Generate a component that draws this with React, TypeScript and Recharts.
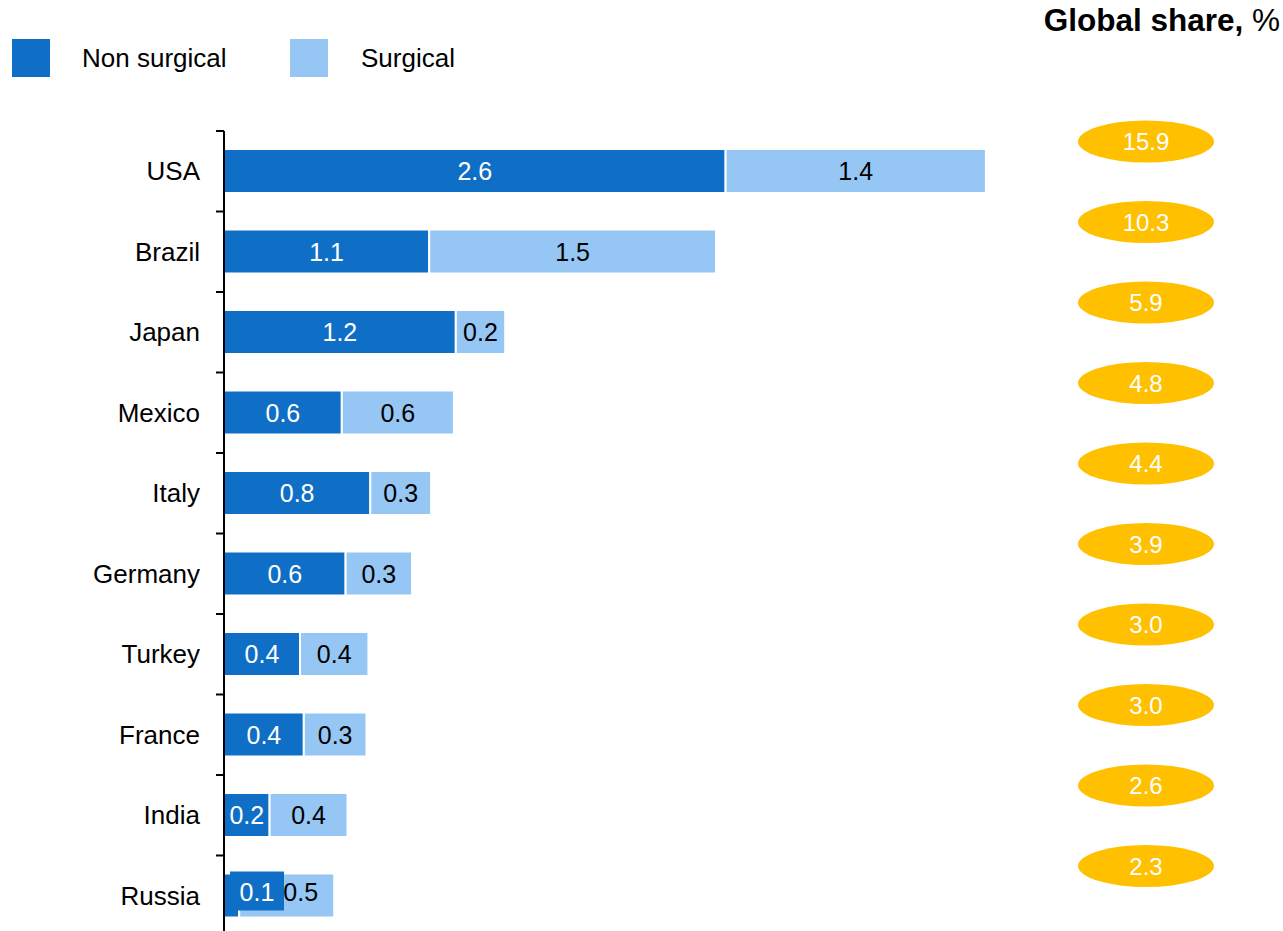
import React from "react";
import { Bar, BarChart, LabelList, XAxis, YAxis } from "recharts";

const countries = ["USA", "Brazil", "Japan", "Mexico", "Italy", "Germany", "Turkey", "France", "India", "Russia"];
// bar lengths (millions of procedures)
const nonSurgical = [2.64, 1.08, 1.22, 0.62, 0.77, 0.64, 0.40, 0.42, 0.24, 0.08];
const surgical = [1.37, 1.51, 0.26, 0.59, 0.32, 0.35, 0.36, 0.33, 0.41, 0.50];
// printed labels
const nonSurgicalLabels = ["2.6", "1.1", "1.2", "0.6", "0.8", "0.6", "0.4", "0.4", "0.2", "0.1"];
const surgicalLabels = ["1.4", "1.5", "0.2", "0.6", "0.3", "0.3", "0.4", "0.3", "0.4", "0.5"];
const globalShare = ["15.9", "10.3", "5.9", "4.8", "4.4", "3.9", "3.0", "3.0", "2.6", "2.3"];

const DARK = "#0F6FC6";
const LIGHT = "#95C6F4";
const GOLD = "#FFC000";
const FONT = "'Liberation Sans', Arial, sans-serif";

const data = countries.map((c, i) => ({
	country: c,
	nonSurgical: nonSurgical[i],
	surgical: surgical[i],
	share: globalShare[i],
}));

const CategoryTick = (props: any) => {
	const { x, y, payload } = props;
	return <g>
		<line x1={x - 8} x2={x} y1={y - 40.25} y2={y - 40.25} stroke="#000" strokeWidth={2} />
		<text x={x - 24} y={y} textAnchor="end" dominantBaseline="central" fontSize={26} fill="#000" fontFamily={FONT}>
			{payload.value}
		</text>
	</g>;
};

const NonSurgicalLabel = (props: any) => {
	const { x, y, width, height, index } = props;
	const cy = y + height / 2;
	if (width < 40) {
		return <g>
			<rect x={x + 6} y={y - 2} width={54} height={39} fill={DARK} />
			<text x={x + 33} y={cy - 4} textAnchor="middle" dominantBaseline="central" fontSize={25} fill="#fff" fontFamily={FONT}>
				{nonSurgicalLabels[index]}
			</text>
		</g>;
	}
	return <text x={x + width / 2} y={cy} textAnchor="middle" dominantBaseline="central" fontSize={25} fill="#fff" fontFamily={FONT}>
		{nonSurgicalLabels[index]}
	</text>;
};

const SurgicalLabel = (props: any) => {
	const { x, y, width, height, index } = props;
	const cy = y + height / 2;
	let cx = x + width / 2;
	let dy = 0;
	if (nonSurgical[index] < 0.15) {
		cx += 14;
		dy = -4;
	}
	return <text x={cx} y={cy + dy} textAnchor="middle" dominantBaseline="central" fontSize={25} fill="#000" fontFamily={FONT}>
		{surgicalLabels[index]}
	</text>;
};

const ShareLabel = (props: any) => {
	const { y, height, value } = props;
	const cy = y + height / 2 - 29.5;
	return <g>
		<ellipse cx={1146} cy={cy} rx={68} ry={21} fill={GOLD} />
		<text x={1146} y={cy} textAnchor="middle" dominantBaseline="central" fontSize={24} fill="#fff" fontFamily={FONT}>
			{value}
		</text>
	</g>;
};

function ChartLegend() {
	return <div style={{ position: "absolute", left: 12, top: 39, display: "flex", alignItems: "center", fontSize: 26, color: "#000" }}>
		<div style={{ width: 38, height: 38, background: DARK }} />
		<span style={{ marginLeft: 32, width: 208 }}>Non surgical</span>
		<div style={{ width: 38, height: 38, background: LIGHT }} />
		<span style={{ marginLeft: 33 }}>Surgical</span>
	</div>;
}

function App() {
	return <div style={{ position: "absolute", left: 0, top: 0, width: 1283, height: 931, overflow: "hidden", background: "#fff", fontFamily: FONT }}>
		<div style={{ position: "absolute", right: 3, top: 2, fontSize: 31.5, color: "#000", whiteSpace: "nowrap" }}>
			<b>Global share,</b> %
		</div>
		<ChartLegend />
		<BarChart
			width={1283}
			height={940}
			data={data}
			layout="vertical"
			barSize={44}
			margin={{ top: 131, right: 109, bottom: 4, left: 0 }}
		>
			<XAxis type="number" hide={true} domain={[0, 5]} />
			<YAxis
				type="category"
				dataKey="country"
				width={224}
				tickLine={false}
				tickSize={0}
				tickMargin={0}
				axisLine={{ stroke: "#000", strokeWidth: 2 }}
				tick={<CategoryTick />}
				interval={0}
			/>
			<Bar dataKey="nonSurgical" stackId="a" fill={DARK} stroke="#fff" strokeWidth={2} isAnimationActive={false}>
				<LabelList dataKey="nonSurgical" content={<NonSurgicalLabel />} />
			</Bar>
			<Bar dataKey="surgical" stackId="a" fill={LIGHT} stroke="#fff" strokeWidth={2} isAnimationActive={false}>
				<LabelList dataKey="surgical" content={<SurgicalLabel />} />
				<LabelList dataKey="share" content={<ShareLabel />} />
			</Bar>
		</BarChart>
	</div>;
}

export default App;
